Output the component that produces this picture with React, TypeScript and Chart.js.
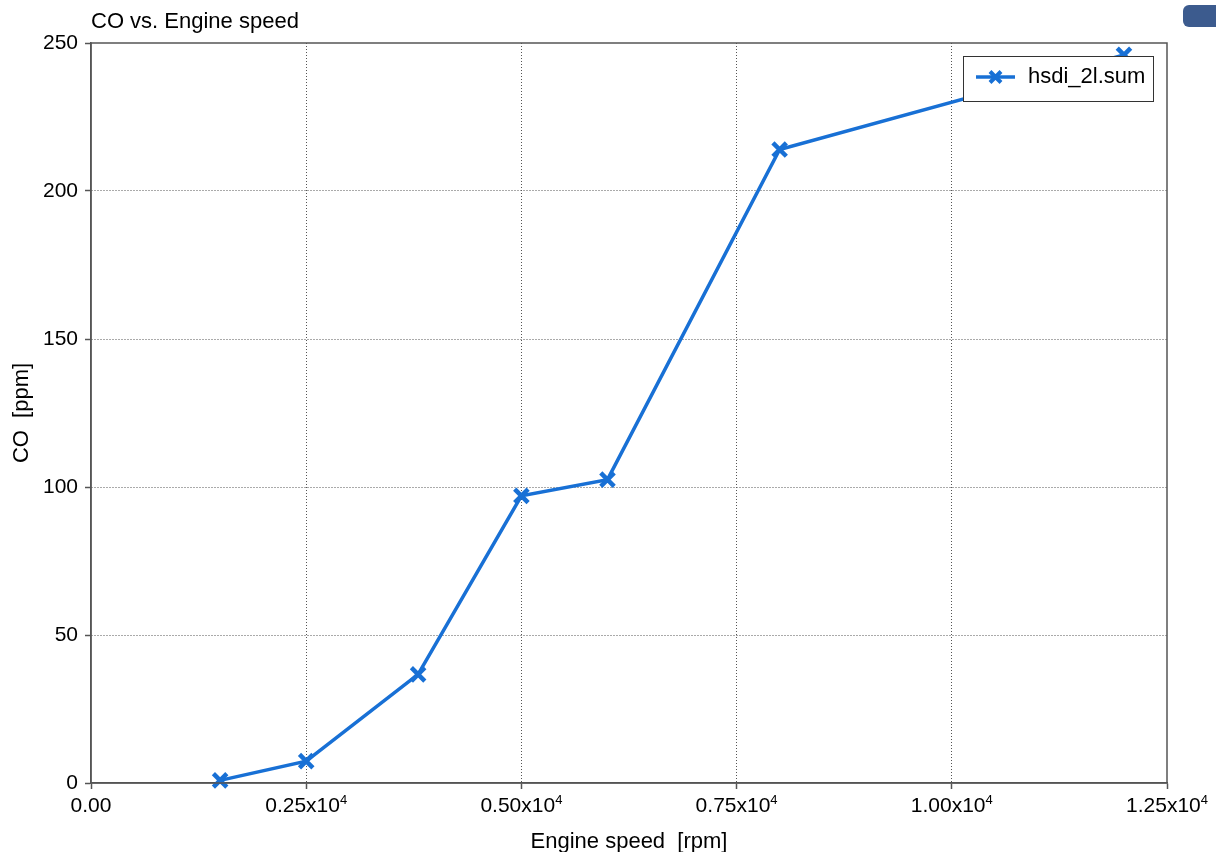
import React, { useEffect, useRef } from "react";
import { Chart, registerables } from "chart.js";

Chart.register(...registerables);

const chartTitle = "CO vs. Engine speed";
const xAxisTitle = "Engine speed  [rpm]";
const yAxisTitle = "CO  [ppm]";
const seriesLabel = "hsdi_2l.sum";

const engineSpeed = [1500, 2500, 3800, 5000, 6000, 8000, 12000];
const coValues = [0.9, 7.4, 36.7, 97, 102.5, 214, 246];

const xTickValues = [0, 2500, 5000, 7500, 10000, 12500];
const xTickMantissas = ["0.00", "0.25x10", "0.50x10", "0.75x10", "1.00x10", "1.25x10"];
const xTickExponents = ["", "4", "4", "4", "4", "4"];

const FONT = "'Liberation Sans', Arial, Helvetica, sans-serif";
const LINE_COLOR = "#1870d5";

const overlayPlugin = {
  id: "overlay",
  afterDatasetsDraw(chart: any) {
    const ctx = chart.ctx as CanvasRenderingContext2D;
    const area = chart.chartArea;
    const xs = chart.scales.x;
    ctx.save();
    ctx.strokeStyle = "#555";
    ctx.lineWidth = 1.5;
    ctx.setLineDash([]);
    ctx.strokeRect(area.left, area.top, area.right - area.left, area.bottom - area.top);

    const lx = 963, ly = 56, lw = 190, lh = 45;
    ctx.fillStyle = "#fff";
    ctx.fillRect(lx, ly, lw, lh);
    ctx.strokeStyle = "#333";
    ctx.lineWidth = 1;
    ctx.strokeRect(lx + 0.5, ly + 0.5, lw, lh);
    const my = ly + 21;
    ctx.strokeStyle = LINE_COLOR;
    ctx.lineWidth = 3.5;
    ctx.beginPath();
    ctx.moveTo(976, my);
    ctx.lineTo(1015, my);
    ctx.stroke();
    const cx = 995.5, r = 5.5;
    ctx.lineWidth = 4;
    ctx.beginPath();
    ctx.moveTo(cx - r, my - r);
    ctx.lineTo(cx + r, my + r);
    ctx.moveTo(cx + r, my - r);
    ctx.lineTo(cx - r, my + r);
    ctx.stroke();
    ctx.fillStyle = "#000";
    ctx.font = `22px ${FONT}`;
    ctx.textAlign = "left";
    ctx.textBaseline = "middle";
    ctx.fillText(seriesLabel, 1028, my);

    ctx.fillText(chartTitle, 91, 22);

    for (let i = 0; i < xTickValues.length; i++) {
      const px = xs.getPixelForValue(xTickValues[i]);
      ctx.font = `21px ${FONT}`;
      const mw = ctx.measureText(xTickMantissas[i]).width;
      ctx.font = `13px ${FONT}`;
      const ew = xTickExponents[i] ? ctx.measureText(xTickExponents[i]).width : 0;
      const start = px - (mw + ew) / 2;
      ctx.textAlign = "left";
      ctx.textBaseline = "alphabetic";
      ctx.font = `21px ${FONT}`;
      ctx.fillText(xTickMantissas[i], start, 812);
      if (xTickExponents[i]) {
        ctx.font = `13px ${FONT}`;
        ctx.fillText(xTickExponents[i], start + mw, 804);
      }
    }

    ctx.font = `22px ${FONT}`;
    ctx.textAlign = "center";
    ctx.textBaseline = "middle";
    ctx.fillText(xAxisTitle, (area.left + area.right) / 2, 842);
    ctx.save();
    ctx.translate(22, (area.top + area.bottom) / 2);
    ctx.rotate(-Math.PI / 2);
    ctx.fillText(yAxisTitle, 0, 0);
    ctx.restore();
    ctx.restore();
  },
};

export default function App() {
  const ref = useRef<HTMLCanvasElement>(null);
  useEffect(() => {
    if (!ref.current) return;
    const chart = new Chart(ref.current, {
      type: "scatter",
      data: {
        datasets: [
          {
            label: seriesLabel,
            data: engineSpeed.map((x, i) => ({ x, y: coValues[i] })),
            showLine: true,
            borderColor: LINE_COLOR,
            backgroundColor: LINE_COLOR,
            borderWidth: 3.5,
            pointStyle: "crossRot",
            pointRadius: 9.5,
            pointBorderWidth: 4.5,
            pointBorderColor: LINE_COLOR,
            clip: false,
          } as any,
        ],
      },
      options: {
        responsive: false,
        animation: false,
        layout: { padding: { left: 0, right: 49, top: 43, bottom: 0 } },
        plugins: { legend: { display: false }, tooltip: { enabled: false }, title: { display: false } },
        scales: {
          x: {
            type: "linear",
            min: 0,
            max: 12500,
            afterBuildTicks: (s: any) => {
              s.ticks = xTickValues.map((v) => ({ value: v }));
            },
            afterFit: (s: any) => {
              s.height = 69;
            },
            ticks: { display: false },
            grid: {
              color: (c: any) => (c.tick && (c.tick.value === 0 || c.tick.value === 12500) ? "rgba(0,0,0,0)" : "#555"),
              lineWidth: 1,
              tickLength: 6,
              tickColor: "#555",
              tickWidth: 1.5,
              tickBorderDash: [],
            } as any,
            border: { display: true, color: "#555", width: 1.5, dash: [1, 2] },
          },
          y: {
            type: "linear",
            min: 0,
            max: 250,
            afterFit: (s: any) => {
              s.width = 91;
            },
            ticks: { stepSize: 50, color: "#000", padding: 7, font: { family: FONT, size: 21 } },
            grid: {
              color: (c: any) => (c.tick && (c.tick.value === 0 || c.tick.value === 250) ? "rgba(0,0,0,0)" : "#555"),
              lineWidth: 1,
              tickLength: 6,
              tickColor: "#555",
              tickWidth: 1.5,
              tickBorderDash: [],
            } as any,
            border: { display: true, color: "#555", width: 1.5, dash: [1, 2] },
          },
        },
      },
      plugins: [overlayPlugin],
    });
    return () => chart.destroy();
  }, []);
  return (
    <div style={{ position: "absolute", left: 0, top: 0, width: 1216, height: 852, background: "#fff", overflow: "hidden" }}>
      <canvas ref={ref} width={1216} height={852} style={{ display: "block" }} />
      <div
        style={{
          position: "absolute",
          left: 1183,
          top: 5,
          width: 40,
          height: 22,
          background: "#3c5b8e",
          borderRadius: 6,
        }}
      />
    </div>
  );
}
